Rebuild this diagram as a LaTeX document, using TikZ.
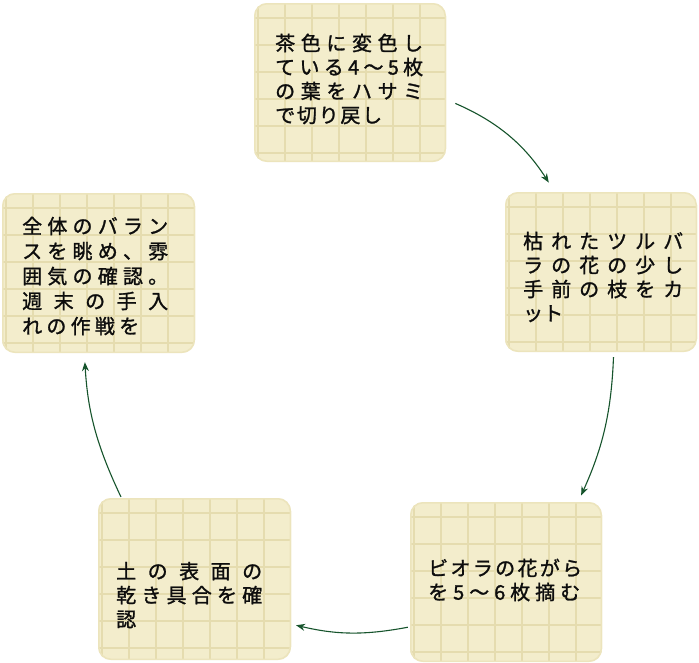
\documentclass[tikz,border=0pt]{standalone}
\usepackage{fontspec}
\newfontfamily\jp[FakeBold=1.3]{Noto Sans CJK JP}
\usetikzlibrary{arrows.meta}
\definecolor{paperbg}{RGB}{243,237,204}
\definecolor{gridc}{RGB}{229,220,175}
\definecolor{edgec}{RGB}{236,228,188}
\definecolor{arrc}{RGB}{22,84,44}
\tikzset{
  gridline/.style={draw=gridc, line width=1.3pt},
  paperedge/.style={draw=edgec, line width=3pt},
  arr/.style={draw=arrc, line width=1.1pt, -{Stealth[length=9pt,width=7pt]}},
  txt/.style={inner sep=0pt, anchor=west, align=left, text=black!95},
}
\newcommand\paperbox[5]{%
  \begin{scope}
    \clip[rounded corners=13pt] (#2,#3) rectangle (#4,#5);
    \fill[paperbg] (#2,#3) rectangle (#4,#5);
    \foreach \k in {0,...,7}{
      \draw[gridline] ({#2+4+27*\k},#3) -- ({#2+4+27*\k},#5);
      \draw[gridline] (#2,{#3+15+27*\k}) -- (#4,{#3+15+27*\k});
    }
    \draw[paperedge, rounded corners=13pt] (#2,#3) rectangle (#4,#5);
  \end{scope}
  \node[inner sep=0pt, minimum width={(#4-#2)*1pt}, minimum height={(#5-#3)*1pt}] (#1) at ({(#2+#4)/2},{(#3+#5)/2}) {};
}
\newcommand\jl[2]{\makebox[#1pt][s]{#2}}
\begin{document}
\begin{tikzpicture}[x=1pt, y=-1pt]
\useasboundingbox (0,0) rectangle (699,662);
\fill[white] (0,0) rectangle (699,662);

\paperbox{b1}{254}{3}{446}{162}
\paperbox{b2}{505}{192}{697}{352}
\paperbox{b3}{2}{193}{195}{353}
\paperbox{b4}{410}{502}{602}{662}
\paperbox{b5}{98}{498}{291}{660}

\node[txt, font=\jp\fontsize{20}{24}\selectfont] (t1) at (275,79) {%
\jl{148}{茶\hfill 色\hfill に\hfill 変\hfill 色\hfill し}\\
\jl{148}{て\hfill い\hfill る\hfill 4\hfill ～\hfill 5\hfill 枚}\\
\jl{148}{の\hfill 葉\hfill を\hfill ハ\hfill サ\hfill ミ}\\
\jl{107}{で\hfill 切\hfill り\hfill 戻\hfill し}};

\node[txt, font=\jp\fontsize{20}{24}\selectfont] (t2) at (523,277) {%
\jl{160}{枯\hfill れ\hfill た\hfill ツ\hfill ル\hfill バ}\\
\jl{160}{ラ\hfill の\hfill 花\hfill の\hfill 少\hfill し}\\
\jl{160}{手\hfill 前\hfill の\hfill 枝\hfill を\hfill カ}\\
\jl{31}{ッ\hfill ト}};

\node[txt, font=\jp\fontsize{20}{25}\selectfont] (t3) at (22,276) {%
\jl{146}{全\hfill 体\hfill の\hfill バ\hfill ラ\hfill ン}\\
\jl{146}{ス\hfill を\hfill 眺\hfill め\hfill 、\hfill 雰}\\
\jl{146}{囲\hfill 気\hfill の\hfill 確\hfill 認\hfill 。}\\
\jl{146}{週\hfill 末\hfill の\hfill 手\hfill 入}\\
\jl{117}{れ\hfill の\hfill 作\hfill 戦\hfill を}};

\node[txt, font=\jp\fontsize{20}{24}\selectfont] (t4) at (428,580) {%
\jl{154}{ビ\hfill オ\hfill ラ\hfill の\hfill 花\hfill が\hfill ら}\\
\jl{152}{を\hfill 5\hfill ～\hfill 6\hfill 枚\hfill 摘\hfill む}};

\node[txt, font=\jp\fontsize{20}{24}\selectfont] (t5) at (116,595) {%
\jl{146}{土\hfill の\hfill 表\hfill 面\hfill の}\\
\jl{146}{乾\hfill き\hfill 具\hfill 合\hfill を\hfill 確}\\
認};

\draw[arr, shorten <=10pt, shorten >=11pt] (b1.-10) to[bend left=17] (b2.120);
\draw[arr, shorten <=5pt, shorten >=7pt] (b2.-81) to[bend left=11] (b4.48);
\draw[arr, shorten <=2pt, shorten >=5pt] (b4.205) to[bend left=12] (b5.-25);
\draw[arr, shorten <=1pt, shorten >=9pt] (b5.132) to[bend left=11] (b3.-100);
\end{tikzpicture}
\end{document}
